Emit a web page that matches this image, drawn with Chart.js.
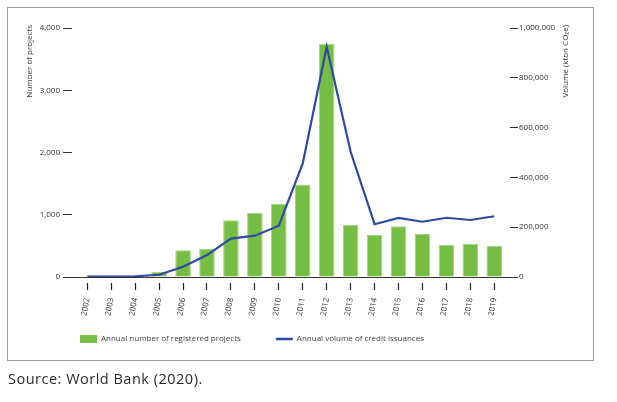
<!DOCTYPE html>
<html>
<head>
<meta charset="utf-8">
<script src="https://cdn.jsdelivr.net/npm/chart.js@4.4.1/dist/chart.umd.min.js"></script>
<style>
    body { margin: 0; background: #fff; }
    .frame {
        position: absolute; left: 7px; top: 7px;
        width: 587px; height: 354px;
        box-sizing: border-box;
        border: 1px solid #9c9c9c;
    }
    .chart-box { position: absolute; left: 0; top: 0; width: 617px; height: 402px; }
    .source {
        position: absolute; left: 8px; top: 369px;
        font: 14.5px 'Open Sans', sans-serif; letter-spacing: 0.5px; color: #2b2b2b;
    }
</style>
</head>
<body>
<div class="frame"></div>
<div class="chart-box"><canvas id="chart" width="617" height="402"></canvas></div>
<div class="source">Source: World Bank (2020).</div>
<script>
// Datos
const years = ['2002', '2003', '2004', '2005', '2006', '2007', '2008', '2009', '2010',
    '2011', '2012', '2013', '2014', '2015', '2016', '2017', '2018', '2019'];
const projects = [0, 0, 1, 80, 429, 450, 911, 1029, 1173, 1484, 3746, 836, 675, 814, 691, 514, 530, 503];
const volumes = [2000, 2000, 3000, 9000, 41000, 88000, 154000, 166000, 206000, 456000,
    925000, 503000, 212000, 237000, 222000, 238000, 229000, 244000];

const projectsLabel = 'Annual number of registered projects';
const volumesLabel = 'Annual volume of credit issuances';
const leftTitle = 'Number of projects';
const rightTitle = 'Volume (kton CO₂e)';

const fmt = v => Number(v).toLocaleString('en-US');

Chart.defaults.font.family = "'Open Sans', sans-serif";
Chart.defaults.font.size = 8;
Chart.defaults.color = '#333';

/**
 * Títulos de ejes y ajuste de la leyenda
 */
const axisTitles = {
    id: 'axisTitles',
    afterLayout(chart) {
        // la leyenda va más cerca del eje y un poco a la derecha
        const lg = chart.legend;
        const h = lg.bottom - lg.top;
        lg.top = chart.chartArea.bottom + 23;
        lg.bottom = lg.top + h;
        lg.left += 5;
        lg.right += 5;
    },
    afterDraw(chart) {
        const ctx = chart.ctx;
        const top = chart.chartArea.top - 3;
        ctx.save();
        ctx.font = "8px 'Open Sans', sans-serif";
        ctx.fillStyle = '#333';
        ctx.textAlign = 'right';
        ctx.textBaseline = 'middle';
        [[leftTitle, chart.scales.y.left - 10], [rightTitle, chart.scales.y1.right - 4]].forEach(([t, x]) => {
            ctx.save();
            ctx.translate(x, top);
            ctx.rotate(-Math.PI / 2);
            ctx.fillText(t, 0, 0);
            ctx.restore();
        });
        ctx.restore();
    }
};

new Chart(document.getElementById('chart'), {
    type: 'bar',
    data: {
        datasets: [
            {
                type: 'bar',
                label: projectsLabel,
                data: projects.map((v, i) => ({x: i, y: v})),
                backgroundColor: '#76bd43',
                borderColor: '#a3d482',
                borderWidth: 1,
                categoryPercentage: 1,
                barPercentage: 0.65,
                yAxisID: 'y',
                order: 1
            },
            {
                type: 'line',
                label: volumesLabel,
                data: volumes.map((v, i) => ({x: i, y: v})),
                borderColor: '#2d4aa5',
                backgroundColor: '#2d4aa5',
                borderWidth: 2.2,
                pointRadius: 0,
                tension: 0,
                yAxisID: 'y1',
                order: 0
            }
        ]
    },
    plugins: [axisTitles],
    options: {
        responsive: false,
        animation: false,
        layout: { padding: { left: 40, right: 47, top: 28, bottom: 30 } },
        plugins: {
            tooltip: { enabled: false },
            legend: {
                position: 'bottom',
                align: 'start',
                labels: {
                    color: '#444',
                    font: { size: 8 },
                    padding: 35,
                    usePointStyle: true,
                    pointStyleWidth: 17,
                    sort: (a, b) => a.datasetIndex - b.datasetIndex,
                    generateLabels: chart => {
                        const items = Chart.defaults.plugins.legend.labels.generateLabels(chart);
                        items.forEach(it => {
                            if (it.datasetIndex === 0) {
                                it.pointStyle = 'rect';
                                it.lineWidth = 0;
                                it.fillStyle = '#76bd43';
                            } else {
                                it.pointStyle = 'line';
                                it.lineWidth = 2.5;
                                it.strokeStyle = '#2d4aa5';
                            }
                        });
                        return items;
                    }
                }
            }
        },
        scales: {
            x: {
                type: 'linear',
                bounds: 'data',
                min: -0.639,
                max: 17.657,
                offset: false,
                border: { display: true, color: '#333', width: 1 },
                grid: {
                    display: true,
                    offset: false,
                    drawOnChartArea: false,
                    drawTicks: true,
                    tickLength: 13,
                    tickColor: '#222',
                    tickWidth: 1.2,
                    tickBorderDash: [8, 40],
                    tickBorderDashOffset: 43
                },
                ticks: {
                    autoSkip: false,
                    minRotation: 80,
                    maxRotation: 80,
                    padding: 7,
                    callback: v => years[v] || ''
                },
                afterBuildTicks: scale => {
                    scale.ticks = years.map((y, i) => ({value: i}));
                },
                afterFit: scale => { scale.height = 42; }
            },
            y: {
                position: 'left',
                min: 0,
                max: 4000,
                border: { display: false },
                grid: { drawOnChartArea: false, tickLength: 9, tickColor: '#333' },
                ticks: { stepSize: 1000, padding: 3, callback: fmt },
                afterFit: scale => { scale.width = 32; }
            },
            y1: {
                position: 'right',
                min: 0,
                max: 1000000,
                border: { display: false },
                grid: { drawOnChartArea: false, tickLength: 8, tickColor: '#333' },
                ticks: { stepSize: 200000, padding: 1, callback: fmt },
                afterFit: scale => { scale.width = 60; }
            }
        }
    }
});
</script>
</body>
</html>
